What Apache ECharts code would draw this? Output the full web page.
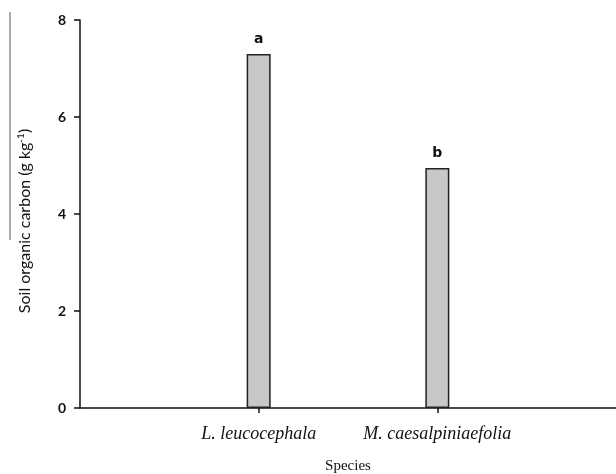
<!DOCTYPE html>
<html>
<head>
<meta charset="utf-8">
<script src="https://cdn.jsdelivr.net/npm/echarts@6/dist/echarts.min.js"></script>
<style>html,body{margin:0;padding:0;background:#fff}#c{width:616px;height:474px}</style>
</head>
<body>
<div id="c"></div>
<script>
const categories = ['', 'L. leucocephala', 'M. caesalpiniaefolia', ''];
const carbonValues = ['-', 7.3, 4.95, '-'];
const letters = ['', 'a', 'b', ''];
const yTicks = [0, 2, 4, 6, 8];

const chart = echarts.init(document.getElementById('c'));
chart.setOption({
  animation: false,
  backgroundColor: '#ffffff',
  grid: { left: 80, right: 0, top: 20, bottom: 66, containLabel: false, outerBoundsMode: 'none' },
  xAxis: {
    type: 'category',
    data: categories,
    boundaryGap: false,
    name: 'Species',
    nameLocation: 'middle',
    nameGap: 51,
    nameTextStyle: { fontFamily: 'Liberation Serif', fontSize: 15, color: '#111' },
    axisLine: { lineStyle: { color: '#111', width: 1.5 } },
    axisTick: { length: 5, lineStyle: { color: '#111', width: 1.5 }, interval: (i, v) => v !== '' },
    axisLabel: { interval: 0, margin: 17, fontFamily: 'Liberation Serif', fontStyle: 'italic', fontSize: 18, color: '#111' },
    splitLine: { show: false }
  },
  yAxis: {
    type: 'value',
    min: yTicks[0],
    max: yTicks[yTicks.length - 1],
    interval: 2,
    name: 'Soil organic carbon (g kg{sup|-1})',
    nameLocation: 'middle',
    nameRotate: 90,
    nameGap: 46,
    nameTextStyle: {
      fontFamily: 'Lato', fontSize: 16, color: '#111', padding: [0, 14, 0, 0],
      rich: { sup: { fontFamily: 'Lato', fontSize: 10, verticalAlign: 'top', padding: [0, 0, 8, 0], color: '#111' } }
    },
    axisLine: { show: true, lineStyle: { color: '#111', width: 1.5 } },
    axisTick: { show: true, length: 6, lineStyle: { color: '#111', width: 1.5 } },
    axisLabel: { margin: 14, fontFamily: 'Lato', fontWeight: 'bold', fontSize: 14, color: '#111' },
    splitLine: { show: false }
  },
  graphic: [{
    type: 'line', shape: { x1: 10, y1: 12, x2: 10, y2: 240 },
    style: { stroke: '#555', lineWidth: 1 }
  }],
  series: [{
    type: 'bar',
    data: carbonValues,
    barWidth: 24,
    itemStyle: { color: '#c8c8c8', borderColor: '#222', borderWidth: 1.5 },
    label: {
      show: true, position: 'top', distance: 8,
      formatter: p => letters[p.dataIndex],
      fontFamily: 'DejaVu Sans', fontWeight: 'bold', fontSize: 14, color: '#111'
    }
  }]
});
</script>
</body>
</html>
